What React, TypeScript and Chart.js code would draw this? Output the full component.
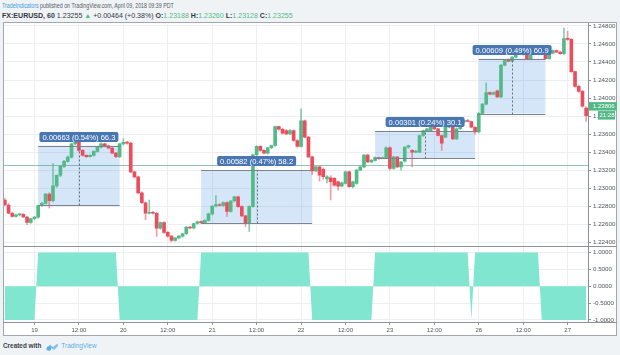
import React, { useEffect, useRef } from 'react';
import { Chart, registerables } from 'chart.js';
Chart.register(...registerables);

// ---- hourly candles, index 0 = 18th 16:00 ----
const opens = [
  1.22870, 1.22815, 1.22724, 1.22690, 1.22705, 1.22712, 1.22682, 1.22621, 1.22665, 1.22680,
  1.22808, 1.22834, 1.22936, 1.22863, 1.23027, 1.23145, 1.23244, 1.23299, 1.23346, 1.23493,
  1.23537, 1.23420, 1.23365, 1.23350, 1.23365, 1.23410, 1.23456, 1.23493, 1.23470, 1.23445,
  1.23390, 1.23350, 1.23493, 1.23510, 1.23500, 1.23182, 1.23126, 1.22950, 1.22840, 1.22724,
  1.22735, 1.22724, 1.22559, 1.22620, 1.22511, 1.22470, 1.22423, 1.22450, 1.22470, 1.22497,
  1.22570, 1.22560, 1.22610, 1.22630, 1.22620, 1.22645, 1.22717, 1.22804, 1.22820, 1.22810,
  1.22842, 1.22743, 1.22859, 1.22907, 1.22798, 1.22695, 1.22614, 1.22798, 1.23372, 1.23464,
  1.23420, 1.23390, 1.23450, 1.23475, 1.23684, 1.23655, 1.23640, 1.23603, 1.23640, 1.23530,
  1.23464, 1.23747, 1.23567, 1.23348, 1.23194, 1.23238, 1.23210, 1.23105, 1.23115, 1.23110,
  1.23073, 1.23025, 1.23055, 1.23183, 1.23018, 1.23055, 1.23201, 1.23238, 1.23367, 1.23293,
  1.23310, 1.23340, 1.23330, 1.23340, 1.23450, 1.23220, 1.23347, 1.23237, 1.23300, 1.23456,
  1.23420, 1.23401, 1.23401, 1.23585, 1.23640, 1.23640, 1.23684, 1.23658, 1.23585, 1.23566,
  1.23677, 1.23684, 1.23548, 1.23660, 1.23735, 1.23750, 1.23740, 1.23677, 1.23625, 1.23830,
  1.23933, 1.24060, 1.24043, 1.24079, 1.24013, 1.24365, 1.24427, 1.24409, 1.24453, 1.24500,
  1.24492, 1.24500, 1.24438, 1.24490, 1.24500, 1.24490, 1.24495, 1.24438, 1.24497, 1.24526,
  1.24510, 1.24493, 1.24658, 1.24650, 1.24294, 1.24129, 1.24075, 1.23890,
];
const highs = [
  1.22890, 1.22830, 1.22735, 1.22715, 1.22720, 1.22720, 1.22690, 1.22670, 1.22690, 1.22815,
  1.22845, 1.22945, 1.22950, 1.23274, 1.23150, 1.23255, 1.23310, 1.23360, 1.23500, 1.23560,
  1.23545, 1.23430, 1.23375, 1.23375, 1.23415, 1.23465, 1.23505, 1.23500, 1.23480, 1.23455,
  1.23400, 1.23500, 1.23548, 1.23520, 1.23510, 1.23190, 1.23135, 1.22960, 1.22850, 1.22870,
  1.22745, 1.22735, 1.22625, 1.22630, 1.22520, 1.22480, 1.22455, 1.22475, 1.22500, 1.22575,
  1.22580, 1.22615, 1.22640, 1.22640, 1.22650, 1.22725, 1.22810, 1.22920, 1.22830, 1.22850,
  1.22850, 1.22865, 1.22915, 1.22915, 1.22805, 1.22700, 1.22805, 1.23380, 1.23470, 1.23475,
  1.23430, 1.23455, 1.23480, 1.23690, 1.23690, 1.23665, 1.23650, 1.23650, 1.23648, 1.23540,
  1.23881, 1.23755, 1.23575, 1.23355, 1.23245, 1.23245, 1.23225, 1.23140, 1.23140, 1.23120,
  1.23080, 1.23070, 1.23190, 1.23195, 1.23080, 1.23210, 1.23245, 1.23375, 1.23380, 1.23320,
  1.23350, 1.23345, 1.23345, 1.23460, 1.23460, 1.23355, 1.23355, 1.23300, 1.23460, 1.23480,
  1.23430, 1.23420, 1.23590, 1.23645, 1.23665, 1.23690, 1.23690, 1.23665, 1.23590, 1.23680,
  1.23690, 1.23690, 1.23670, 1.23740, 1.23760, 1.23765, 1.23745, 1.23685, 1.23840, 1.23940,
  1.24170, 1.24070, 1.24070, 1.24090, 1.24370, 1.24420, 1.24435, 1.24460, 1.24505, 1.24510,
  1.24500, 1.24510, 1.24495, 1.24510, 1.24510, 1.24505, 1.24505, 1.24505, 1.24535, 1.24535,
  1.24520, 1.24775, 1.24740, 1.24660, 1.24300, 1.24140, 1.24085, 1.23905,
];
const lows = [
  1.22810, 1.22720, 1.22680, 1.22680, 1.22695, 1.22675, 1.22596, 1.22610, 1.22655, 1.22670,
  1.22800, 1.22825, 1.22782, 1.22850, 1.23010, 1.23130, 1.23230, 1.23290, 1.23335, 1.23480,
  1.23410, 1.23355, 1.23340, 1.23345, 1.23355, 1.23400, 1.23445, 1.23460, 1.23440, 1.23385,
  1.23340, 1.23340, 1.23480, 1.23490, 1.23170, 1.23115, 1.22940, 1.22830, 1.22651, 1.22715,
  1.22715, 1.22467, 1.22545, 1.22500, 1.22460, 1.22410, 1.22415, 1.22440, 1.22460, 1.22490,
  1.22550, 1.22550, 1.22600, 1.22610, 1.22610, 1.22635, 1.22705, 1.22795, 1.22805, 1.22800,
  1.22688, 1.22735, 1.22850, 1.22790, 1.22685, 1.22578, 1.22523, 1.22790, 1.23360, 1.23410,
  1.23380, 1.23380, 1.23440, 1.23465, 1.23645, 1.23600, 1.23595, 1.23595, 1.23520, 1.23455,
  1.23455, 1.23560, 1.23340, 1.23150, 1.23185, 1.23080, 1.23100, 1.23060, 1.22871, 1.23020,
  1.22980, 1.23015, 1.23045, 1.23010, 1.23005, 1.23045, 1.23195, 1.23230, 1.23285, 1.23285,
  1.23300, 1.23320, 1.23325, 1.23330, 1.23200, 1.23210, 1.23230, 1.23200, 1.23290, 1.23445,
  1.23237, 1.23395, 1.23395, 1.23575, 1.23630, 1.23630, 1.23650, 1.23580, 1.23420, 1.23560,
  1.23670, 1.23540, 1.23540, 1.23650, 1.23725, 1.23735, 1.23670, 1.23600, 1.23615, 1.23820,
  1.23925, 1.24035, 1.24035, 1.24005, 1.24005, 1.24355, 1.24400, 1.24400, 1.24445, 1.24485,
  1.24475, 1.24430, 1.24430, 1.24485, 1.24485, 1.24485, 1.24430, 1.24430, 1.24490, 1.24505,
  1.24485, 1.24485, 1.24640, 1.24285, 1.24120, 1.24065, 1.23900, 1.23740,
];
const closes = [
  1.22815, 1.22724, 1.22690, 1.22705, 1.22712, 1.22682, 1.22621, 1.22665, 1.22680, 1.22808,
  1.22834, 1.22936, 1.22863, 1.23027, 1.23145, 1.23244, 1.23299, 1.23346, 1.23493, 1.23537,
  1.23420, 1.23365, 1.23350, 1.23365, 1.23410, 1.23456, 1.23493, 1.23470, 1.23445, 1.23390,
  1.23350, 1.23493, 1.23510, 1.23500, 1.23182, 1.23126, 1.22950, 1.22840, 1.22724, 1.22735,
  1.22724, 1.22559, 1.22620, 1.22511, 1.22470, 1.22423, 1.22450, 1.22470, 1.22497, 1.22570,
  1.22560, 1.22610, 1.22630, 1.22620, 1.22645, 1.22717, 1.22804, 1.22820, 1.22810, 1.22842,
  1.22743, 1.22859, 1.22907, 1.22798, 1.22695, 1.22614, 1.22798, 1.23372, 1.23464, 1.23420,
  1.23390, 1.23450, 1.23475, 1.23684, 1.23655, 1.23610, 1.23603, 1.23640, 1.23530, 1.23464,
  1.23747, 1.23567, 1.23348, 1.23194, 1.23238, 1.23146, 1.23128, 1.23128, 1.23073, 1.23036,
  1.23025, 1.23062, 1.23183, 1.23018, 1.23073, 1.23201, 1.23238, 1.23367, 1.23293, 1.23310,
  1.23340, 1.23330, 1.23340, 1.23450, 1.23220, 1.23350, 1.23237, 1.23290, 1.23456, 1.23475,
  1.23401, 1.23410, 1.23585, 1.23640, 1.23658, 1.23684, 1.23658, 1.23585, 1.23500, 1.23677,
  1.23684, 1.23548, 1.23660, 1.23735, 1.23750, 1.23740, 1.23677, 1.23625, 1.23830, 1.23933,
  1.24060, 1.24043, 1.24060, 1.24013, 1.24365, 1.24416, 1.24409, 1.24453, 1.24500, 1.24492,
  1.24482, 1.24438, 1.24490, 1.24500, 1.24490, 1.24500, 1.24438, 1.24497, 1.24526, 1.24510,
  1.24493, 1.24658, 1.24650, 1.24294, 1.24129, 1.24075, 1.23910, 1.23806,
];

// indicator pane (+1 / -1 per candle)
const signal = [
  -1, -1, -1, -1, -1, -1, -1, -1, -1,
  1, 1, 1, 1, 1, 1, 1, 1, 1, 1, 1, 1, 1, 1, 1, 1, 1, 1, 1, 1, 1, 1,
  -1, -1, -1, -1, -1, -1, -1, -1, -1, -1, -1, -1, -1, -1, -1, -1, -1, -1, -1, -1, -1, -1,
  1, 1, 1, 1, 1, 1, 1, 1, 1, 1, 1, 1, 1, 1, 1, 1, 1, 1, 1, 1, 1, 1, 1, 1, 1, 1, 1, 1, 1, 1,
  -1, -1, -1, -1, -1, -1, -1, -1, -1, -1, -1, -1, -1, -1, -1, -1, -1,
  1, 1, 1, 1, 1, 1, 1, 1, 1, 1, 1, 1, 1, 1, 1, 1, 1, 1, 1, 1, 1, 1, 1, 1, 1, 1,
  -1,
  1, 1, 1, 1, 1, 1, 1, 1, 1, 1, 1, 1, 1, 1, 1, 1, 1, 1,
  -1, -1, -1, -1, -1, -1, -1, -1, -1, -1, -1, -1, -1,
];

// time axis
const timeTickIndex = [8, 20, 32, 44, 56, 68, 80, 92, 104, 116, 128, 140, 152];
const timeTickLabel = ['19', '12:00', '20', '12:00', '21', '12:00', '22', '12:00', '23', '12:00', '26', '12:00', '27'];

// price axes
const priceTicks = [1.248, 1.246, 1.244, 1.242, 1.24, 1.238, 1.236, 1.234, 1.232, 1.23, 1.228, 1.226, 1.224];
const signalTicks = [1, 0.5, 0, -0.5, -1];

// measure boxes
const boxStart = [9, 53, 100, 128];
const boxEnd = [31, 83, 127, 146];
const boxLow = [1.22810, 1.22618, 1.23336, 1.23829];
const boxHigh = [1.23473, 1.23200, 1.23637, 1.24438];
const boxText = ['0.00663 (0.54%) 66.3', '0.00582 (0.47%) 58.2', '0.00301 (0.24%) 30.1', '0.00609 (0.49%) 60.9'];

const lastPrice = 1.23806;
const countdown = '21:28';
const refPrice = 1.23255;

const UP = '#53b987';
const DOWN = '#eb4d5c';
const FONT = '"Liberation Sans", Arial, sans-serif';

const overlay = {
  id: 'overlay',
  beforeDraw(chart: any) {
    const { ctx } = chart;
    ctx.save();
    ctx.fillStyle = '#ffffff';
    ctx.fillRect(0, 4, 614, 314);
    ctx.restore();
  },
  beforeDatasetsDraw(chart: any) {
    const { ctx, chartArea } = chart;
    const x = chart.scales.x;
    const y = chart.scales.y;
    ctx.save();
    const yr = Math.round(y.getPixelForValue(refPrice)) + 0.5;
    ctx.strokeStyle = 'rgba(110,175,160,0.75)';
    ctx.lineWidth = 1;
    ctx.beginPath();
    ctx.moveTo(chartArea.left, yr);
    ctx.lineTo(chartArea.right, yr);
    ctx.stroke();
    boxStart.forEach((s, k) => {
      const x0 = x.getPixelForValue(s);
      const x1 = x.getPixelForValue(boxEnd[k]);
      const yt = y.getPixelForValue(boxHigh[k]);
      const yb = y.getPixelForValue(boxLow[k]);
      ctx.fillStyle = 'rgba(40,130,220,0.2)';
      ctx.fillRect(x0, yt, x1 - x0, yb - yt);
    });
    ctx.restore();
  },
  afterDatasetsDraw(chart: any) {
    const { ctx } = chart;
    const x = chart.scales.x;
    const y = chart.scales.y;
    ctx.save();
    boxStart.forEach((s, k) => {
      const x0 = x.getPixelForValue(s);
      const x1 = x.getPixelForValue(boxEnd[k]);
      const yt = Math.round(y.getPixelForValue(boxHigh[k])) + 0.5;
      const yb = Math.round(y.getPixelForValue(boxLow[k])) + 0.5;
      ctx.strokeStyle = '#7d838c';
      ctx.lineWidth = 1.2;
      ctx.beginPath();
      ctx.moveTo(x0, yt); ctx.lineTo(x1, yt);
      ctx.moveTo(x0, yb); ctx.lineTo(x1, yb);
      ctx.stroke();
      const xm = Math.round((x0 + x1) / 2) + 0.5;
      ctx.setLineDash([2, 2]);
      ctx.lineWidth = 1;
      ctx.strokeStyle = '#6b717a';
      ctx.beginPath();
      ctx.moveTo(xm, yb); ctx.lineTo(xm, yt);
      ctx.stroke();
      ctx.setLineDash([]);
      // label
      ctx.font = `7.6px ${FONT}`;
      const tw = ctx.measureText(boxText[k]).width;
      const w = tw + 6;
      const h = 10;
      const lx = (x0 + x1) / 2 - w / 2;
      const ly = yt - 4.5 - h;
      ctx.fillStyle = '#4a77b4';
      ctx.beginPath();
      (ctx as any).roundRect(lx, ly, w, h, 2);
      ctx.fill();
      ctx.fillStyle = '#ffffff';
      ctx.textAlign = 'center';
      ctx.textBaseline = 'middle';
      ctx.fillText(boxText[k], lx + w / 2, ly + h / 2 + 0.5);
    });
    ctx.restore();
  },
  afterDraw(chart: any) {
    const { ctx, chartArea } = chart;
    const y = chart.scales.y;
    ctx.save();
    ctx.strokeStyle = '#a3a7ad';
    ctx.lineWidth = 1;
    ctx.strokeRect(0.5, 4.5, 613, 313);
    // pane separator and time axis line
    ctx.strokeStyle = '#8d9199';
    ctx.beginPath();
    const ys = Math.round(y.bottom) + 0.5;
    ctx.moveTo(0, ys); ctx.lineTo(614, ys);
    const yb = Math.round(chartArea.bottom) + 0.5;
    ctx.moveTo(0, yb); ctx.lineTo(614, yb);
    ctx.stroke();
    // last price label
    const yp = y.getPixelForValue(lastPrice);
    ctx.fillStyle = UP;
    ctx.fillRect(y.left + 1, yp - 13.5, 614 - y.left - 1, 8.5);
    ctx.fillRect(y.left + 10, yp - 4.5, 17, 8.5);
    ctx.fillStyle = '#ffffff';
    ctx.font = `6px ${FONT}`;
    ctx.textAlign = 'left';
    ctx.textBaseline = 'middle';
    ctx.fillText(lastPrice.toFixed(5), y.left + 5, yp - 9);
    ctx.fillText(countdown, y.left + 11.5, yp);
    ctx.restore();
  },
};

export default function App() {
  const ref = useRef<HTMLCanvasElement | null>(null);
  useEffect(() => {
    if (!ref.current) return;
    Chart.defaults.font.family = FONT;
    const labels = closes.map((_, i) => String(i));
    const bodyColors = closes.map((c, i) => (c >= opens[i] ? UP : DOWN));
    const wickColors = closes.map((c, i) => (c >= opens[i] ? 'rgba(83,185,135,0.7)' : 'rgba(235,77,92,0.55)'));
    const chart = new Chart(ref.current, {
      type: 'bar',
      data: {
        labels,
        datasets: [
          {
            type: 'line',
            label: 'signal',
            data: signal,
            yAxisID: 'y2',
            fill: 'origin',
            backgroundColor: '#80e6d0',
            borderColor: 'rgba(0,0,0,0)',
            borderWidth: 0,
            pointRadius: 0,
            tension: 0,
            order: 3,
          } as any,
          {
            type: 'bar',
            label: 'wick',
            data: highs.map((h, i) => [lows[i], h]),
            yAxisID: 'y',
            backgroundColor: wickColors,
            barThickness: 1,
            grouped: false,
            minBarLength: 1,
            order: 2,
          } as any,
          {
            type: 'bar',
            label: 'body',
            data: opens.map((o, i) => [o, closes[i]]),
            yAxisID: 'y',
            backgroundColor: bodyColors,
            barThickness: 3,
            grouped: false,
            minBarLength: 1,
            order: 1,
          } as any,
        ],
      },
      options: {
        responsive: false,
        animation: false,
        events: [],
        layout: { padding: { top: 4, right: 1, bottom: 2, left: 0 } },
        plugins: { legend: { display: false }, tooltip: { enabled: false } },
        scales: {
          x: {
            type: 'category',
            offset: true,
            grid: {
              offset: false,
              color: '#eceff2',
              tickLength: 3,
              tickColor: '#8d9199',
            },
            border: { display: false },
            ticks: {
              autoSkip: false,
              maxRotation: 0,
              padding: 2,
              color: '#4e535a',
              font: { size: 6 },
              callback: (v: any) => {
                const k = timeTickIndex.indexOf(Number(v));
                return k >= 0 ? timeTickLabel[k] : '';
              },
            },
            afterBuildTicks: (axis: any) => {
              axis.ticks = timeTickIndex.map((v) => ({ value: v }));
            },
            afterFit: (axis: any) => {
              axis.height = 14;
            },
          },
          y: {
            type: 'linear',
            position: 'right',
            stack: 'pane',
            stackWeight: 224,
            min: 1.22356,
            max: 1.24824,
            grid: { color: '#eceff2', tickLength: 3, tickColor: '#8d9199' },
            border: { display: true, color: '#8d9199' },
            ticks: {
              autoSkip: false,
              padding: 2,
              color: '#4e535a',
              font: { size: 6.2 },
              callback: (v: any) => Number(v).toFixed(5),
            },
            afterBuildTicks: (axis: any) => {
              axis.ticks = priceTicks.map((v) => ({ value: v }));
            },
            afterFit: (axis: any) => {
              axis.width = 29;
            },
          },
          y2: {
            type: 'linear',
            position: 'right',
            stack: 'pane',
            stackWeight: 76,
            min: -1.06,
            max: 1.18,
            grid: { color: '#eceff2', tickLength: 3, tickColor: '#8d9199' },
            border: { display: true, color: '#8d9199' },
            ticks: {
              autoSkip: false,
              padding: 2,
              color: '#4e535a',
              font: { size: 6.2 },
              callback: (v: any) => Number(v).toFixed(4),
            },
            afterBuildTicks: (axis: any) => {
              axis.ticks = signalTicks.map((v) => ({ value: v }));
            },
            afterFit: (axis: any) => {
              axis.width = 29;
            },
          },
        },
      } as any,
      plugins: [overlay],
    });
    return () => chart.destroy();
  }, []);

  const green = UP;
  return (
    <div
      style={{
        position: 'absolute',
        left: 0,
        top: 0,
        width: 620,
        height: 355,
        background: '#f0f3f6',
        overflow: 'hidden',
        fontFamily: FONT,
      }}
    >
      <div
        style={{
          position: 'absolute',
          left: 2,
          top: 1.5,
          fontSize: 6.3,
          lineHeight: '8px',
          color: '#555b63',
          whiteSpace: 'nowrap',
          transform: 'scaleX(0.84)',
          transformOrigin: 'left center',
        }}
      >
        <span style={{ color: '#3f9ad8' }}>TradeIndicators</span> published on TradingView.com, April 09, 2018 09:39 PDT
      </div>
      <div style={{ position: 'absolute', left: 2, top: 10.5, fontSize: 7.05, lineHeight: '9px', color: '#33383f', whiteSpace: 'nowrap' }}>
        <b>FX:EURUSD, 60</b> 1.23255 <span style={{ color: green }}>▲</span> +0.00464 (+0.38%) <b>O:</b>
        <span style={{ color: green }}>1.23188</span> <b>H:</b>
        <span style={{ color: green }}>1.23260</span> <b>L:</b>
        <span style={{ color: green }}>1.23128</span> <b>C:</b>
        <span style={{ color: green }}>1.23255</span>
      </div>
      <div style={{ position: 'absolute', left: 3, top: 18, width: 615, height: 320 }}>
        <canvas ref={ref} width={615} height={320} style={{ display: 'block', width: 615, height: 320 }} />
      </div>
      <div style={{ position: 'absolute', left: 3, top: 341, fontSize: 6.4, lineHeight: '10px', whiteSpace: 'nowrap', display: 'flex', alignItems: 'center' }}>
        <span style={{ color: '#3a3f46', fontWeight: 'bold' }}>Created with</span>
        <svg width="14" height="9" viewBox="0 0 14 9" style={{ marginLeft: 4, marginRight: 2 }}>
          <path d="M1 7 L5 2.5 L8 5 L12.5 1.5 L13 4 L9 8 L6 5.8 L3 8.5 Z" fill="#7cc0ee" />
          <circle cx="4" cy="6.5" r="2.3" fill="#5aaee6" />
        </svg>
        <span style={{ color: '#5aaee6' }}>TradingView</span>
      </div>
    </div>
  );
}
